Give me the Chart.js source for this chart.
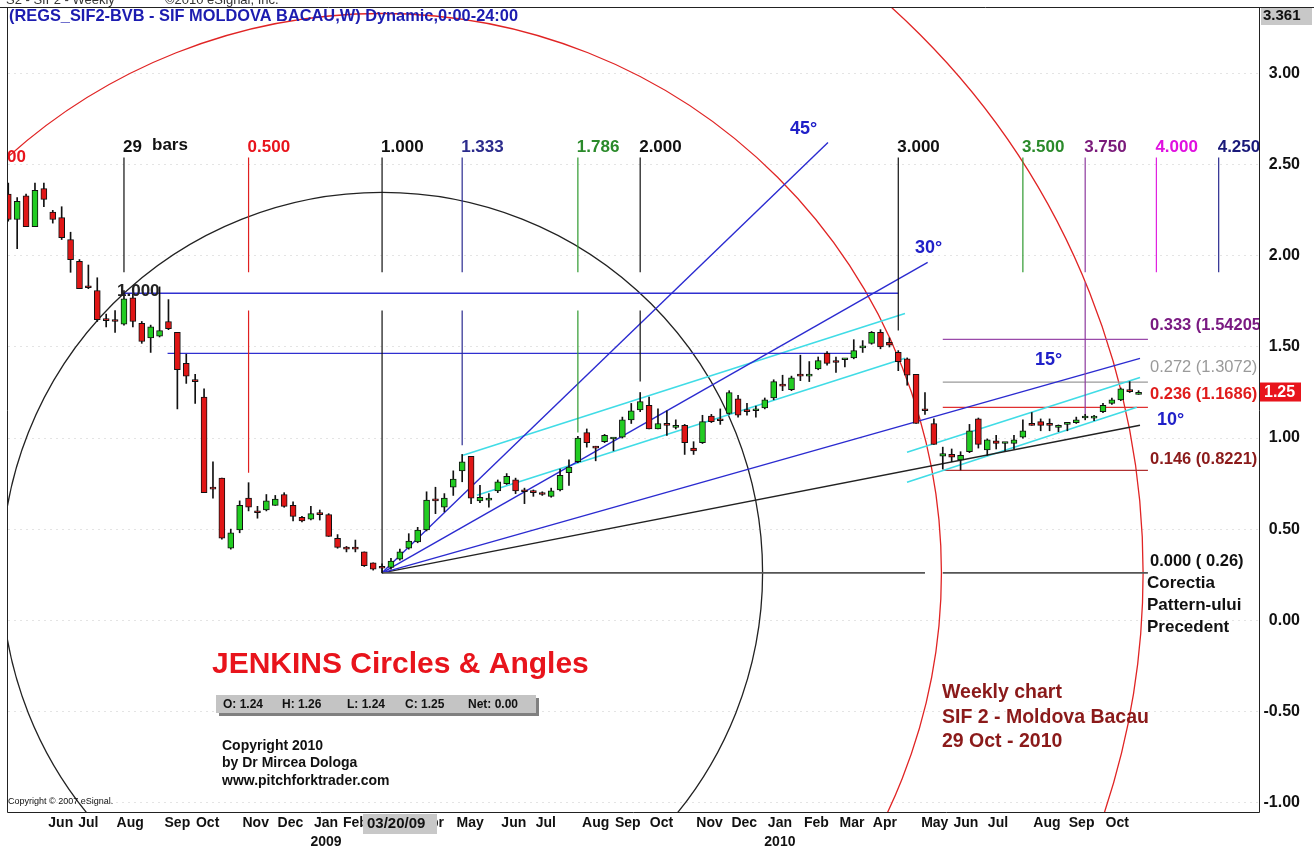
<!DOCTYPE html>
<html><head><meta charset="utf-8">
<script src="https://cdn.jsdelivr.net/npm/chart.js@4/dist/chart.umd.min.js"></script>
<style>html,body{margin:0;padding:0;background:#fff;overflow:hidden}canvas{display:block}</style>
</head><body>
<canvas id="c" width="1314" height="849"></canvas>
<script>
// ---------- DATA (weekly OHLC, bar index 0..127) ----------
const openP  = [2.34,2.20,2.33,2.16,2.37,2.24,2.21,2.09,1.97,1.83,1.81,1.65,1.645,1.625,1.77,1.63,1.55,1.56,1.64,1.58,1.41,1.315,1.225,0.725,0.78,0.395,0.495,0.67,0.60,0.605,0.63,0.69,0.63,0.565,0.555,0.585,0.58,0.45,0.395,0.395,0.375,0.315,0.29,0.29,0.335,0.395,0.43,0.495,0.66,0.62,0.73,0.82,0.90,0.655,0.67,0.71,0.75,0.77,0.71,0.705,0.70,0.68,0.715,0.81,0.87,1.03,0.95,0.98,0.995,1.005,1.10,1.155,1.18,1.05,1.075,1.07,1.07,0.945,0.975,1.12,1.10,1.135,1.215,1.15,1.15,1.165,1.22,1.29,1.265,1.345,1.34,1.38,1.465,1.42,1.43,1.44,1.495,1.52,1.58,1.525,1.47,1.435,1.35,1.155,1.08,0.90,0.91,0.88,0.925,1.105,0.935,0.985,0.97,0.97,1.005,1.075,1.09,1.075,1.07,1.075,1.085,1.11,1.12,1.145,1.19,1.21,1.26,1.24];
const highP  = [2.40,2.32,2.34,2.40,2.40,2.25,2.27,2.13,1.98,1.95,1.88,1.68,1.70,1.81,1.79,1.64,1.62,1.83,1.76,1.58,1.46,1.35,1.27,0.87,0.78,0.50,0.655,0.755,0.625,0.69,0.685,0.70,0.65,0.57,0.625,0.605,0.585,0.47,0.405,0.44,0.375,0.315,0.31,0.34,0.39,0.475,0.51,0.705,0.73,0.695,0.82,0.91,0.90,0.74,0.695,0.77,0.805,0.78,0.725,0.715,0.705,0.725,0.83,0.88,1.01,1.05,0.955,1.02,1.00,1.115,1.19,1.25,1.225,1.16,1.15,1.10,1.075,0.98,1.125,1.13,1.16,1.26,1.235,1.19,1.175,1.22,1.32,1.345,1.34,1.455,1.42,1.445,1.475,1.445,1.435,1.54,1.535,1.585,1.595,1.55,1.48,1.44,1.35,1.25,1.105,0.95,0.94,0.925,1.075,1.11,0.995,1.015,0.975,1.015,1.10,1.14,1.105,1.105,1.072,1.08,1.115,1.13,1.125,1.19,1.22,1.275,1.31,1.26];
const lowP   = [2.19,2.04,2.16,2.16,2.27,2.18,2.09,1.91,1.82,1.82,1.64,1.61,1.58,1.62,1.61,1.52,1.47,1.555,1.595,1.16,1.30,1.19,0.70,0.67,0.445,0.39,0.48,0.60,0.56,0.60,0.63,0.62,0.545,0.54,0.55,0.55,0.46,0.395,0.375,0.375,0.295,0.275,0.26,0.28,0.33,0.39,0.425,0.49,0.585,0.595,0.685,0.76,0.64,0.645,0.62,0.70,0.745,0.695,0.64,0.68,0.685,0.675,0.71,0.74,0.865,0.95,0.875,0.975,0.93,1.00,1.08,1.145,1.05,1.05,1.015,1.05,0.91,0.91,0.97,1.085,1.075,1.13,1.115,1.125,1.115,1.16,1.21,1.26,1.26,1.315,1.31,1.375,1.40,1.36,1.39,1.435,1.47,1.515,1.49,1.50,1.37,1.29,1.08,1.13,0.965,0.83,0.87,0.825,0.92,0.945,0.905,0.94,0.93,0.94,1.00,1.07,1.04,1.04,1.035,1.04,1.08,1.10,1.095,1.14,1.185,1.205,1.25,1.24];
const closeP = [2.20,2.30,2.16,2.36,2.31,2.20,2.10,1.98,1.82,1.825,1.65,1.645,1.64,1.765,1.64,1.53,1.61,1.59,1.60,1.375,1.34,1.31,0.70,0.72,0.45,0.48,0.63,0.62,0.59,0.655,0.665,0.625,0.57,0.545,0.585,0.58,0.46,0.40,0.39,0.39,0.30,0.28,0.285,0.325,0.375,0.435,0.495,0.66,0.655,0.67,0.775,0.87,0.67,0.675,0.67,0.76,0.79,0.71,0.705,0.70,0.69,0.71,0.795,0.84,1.00,0.975,0.945,1.015,1.00,1.10,1.15,1.20,1.05,1.08,1.07,1.07,0.975,0.93,1.09,1.09,1.095,1.25,1.125,1.145,1.155,1.21,1.31,1.285,1.33,1.34,1.345,1.425,1.41,1.415,1.435,1.48,1.50,1.58,1.50,1.51,1.42,1.345,1.08,1.15,0.965,0.915,0.895,0.905,1.04,0.965,0.99,0.97,0.975,0.99,1.04,1.07,1.07,1.07,1.07,1.08,1.10,1.115,1.12,1.18,1.21,1.27,1.255,1.25];

// x-axis month ticks (position in bars) and their labels
const monthTickPos = [5.9,9.0,13.7,19.0,22.4,27.8,31.7,35.7,39.0,43.5,47.6,51.9,56.8,60.4,66.0,69.6,73.4,78.8,82.7,86.7,90.8,94.8,98.5,104.1,107.6,111.2,116.7,120.6,124.6];
const monthTickLabels = ['Jun','Jul','Aug','Sep','Oct','Nov','Dec',['Jan','2009'],'Feb','Mar','Apr','May','Jun','Jul','Aug','Sep','Oct','Nov','Dec',['Jan','2010'],'Feb','Mar','Apr','May','Jun','Jul','Aug','Sep','Oct'];
const yTickValues = [-1,-0.5,0,0.5,1,1.5,2,2.5,3];
const yMin = -1.053, yMax = 3.361;

// Jenkins pivots / circles
const pivotLowBar = 42, pivotLowValue = 0.26;
const pivotHighBar = 13, pivotHighValue = 1.795;
const circleRatios = [1, 1.47, 2];

// angle fan lines from the low: end points
const fanLabels = ['45°','30°','15°','10°'];
const fanEndBar = [92.1, 103.3, 127.16, 127.16];
const fanEndValue = [2.623, 1.964, 1.4376, 1.07];

// time-ratio vertical lines
const timeLabels = ['29','0.500','1.000','1.333','1.786','2.000','3.000','3.500','3.750','4.000','4.250'];
const timeBars   = [13, 27, 42, 51, 64, 71, 100, 114, 121, 129, 136];
const timeUpperFrom = [2.54,2.54,2.54,2.54,2.54,2.54,2.54,2.54,2.54,2.54,2.54];
const timeUpperTo   = [1.91,1.91,1.91,1.91,1.91,1.91,1.59,1.91,1.91,1.91,1.91];
const timeLowerFrom = [null,1.70,1.70,1.70,1.70,1.70,null,null,1.855,null,null];
const timeLowerTo   = [null,0.81,0.26,0.96,1.03,1.31,null,null,1.125,null,null];

// horizontal blue levels
const hLevelValue = [1.795, 1.465];
const hLevelFrom = [13, 17.9];
const hLevelTo = [100, 95];

// channel (light blue) lines
const chanFromBar = [51.1, 52.66, 100.98, 100.98];
const chanFromVal = [0.905, 0.686, 0.922, 0.757];
const chanToBar   = [100.75, 100.75, 127.16, 126.8];
const chanToVal   = [1.684, 1.4376, 1.333, 1.169];

// Fibonacci levels of the previous pattern
const fibRatios = ['0.333','0.272','0.236','0.146'];
const fibValues = [1.54205, 1.3072, 1.1686, 0.8221];
const fibFromBar = 105.0, fibToBar = 128.05;
const zeroSegFrom = [42, 105.0], zeroSegTo = [103.0, 128.05];

// ---------- STYLES ----------
const F = 'Arial, "Liberation Sans", sans-serif';
const FN = '"Liberation Sans Narrow", "Arial Narrow", Arial, "Liberation Sans", sans-serif';
const GREEN = '#22cc22', RED = '#e01616';
const timeColors = ['#111','#e02020','#111','#2b2b90','#2f9a2f','#111','#111','#2f9a2f','#8e3a9e','#e020e0','#2b2b90'];
const timeLabelColors = ['#111','#e8141c','#111','#2b2b8c','#2a8a2a','#111','#111','#2a8a2a','#7a1a7a','#e010e0','#1a1a7a'];
const fibColors = ['#9a4aaa','#9a9a9a','#e03030','#b03030'];
const fibLabelColors = ['#7a1a82','#9a9a9a','#e01c1c','#8b1a1a'];
const circleColors = ['#222','#e02424','#e02424'];

// ---------- DATASETS ----------
const bodies = openP.map((o,i)=>({x:i, y:[Math.min(o,closeP[i]), Math.max(o,closeP[i])]}));
const wicks = openP.map((o,i)=>({x:i, y:[lowP[i], highP[i]]}));
const datasets = [
  {type:'bar', data:bodies, order:0, grouped:false, barThickness:6, minBarLength:2,
   backgroundColor: openP.map((o,i)=> closeP[i]>=o ? GREEN : RED), borderColor:'#111', borderWidth:1, borderSkipped:false},
  {type:'bar', data:wicks, order:1, grouped:false, barThickness:1, backgroundColor:'#111', borderWidth:0}
];
function seg(x1,y1,x2,y2,color,w){
  datasets.push({type:'line', data:[{x:x1,y:y1},{x:x2,y:y2}], borderColor:color, borderWidth:w||1.3,
    pointRadius:0, fill:false, tension:0, order:2});
}
timeBars.forEach((b,i)=>{
  seg(b,timeUpperFrom[i],b,timeUpperTo[i],timeColors[i],1.2);
  if(timeLowerFrom[i]!==null) seg(b,timeLowerFrom[i],b,timeLowerTo[i],timeColors[i],1.2);
});
zeroSegFrom.forEach((f,i)=>seg(f,pivotLowValue,zeroSegTo[i],pivotLowValue,'#555',1.6));
fanEndBar.forEach((b,i)=>seg(pivotLowBar,pivotLowValue,b,fanEndValue[i], i===3?'#222':'#2b2bd0',1.4));
hLevelValue.forEach((v,i)=>seg(hLevelFrom[i],v,hLevelTo[i],v,'#3030d0',1.3));
chanFromBar.forEach((b,i)=>seg(b,chanFromVal[i],chanToBar[i],chanToVal[i],'#40dce6',1.6));
fibValues.forEach((v,i)=>seg(fibFromBar,v,fibToBar,v,fibColors[i],1.3));

// ---------- OVERLAY PLUGIN ----------
function txt(ctx,s,x,y,font,color,align){
  ctx.font=font; ctx.fillStyle=color; ctx.textAlign=align||'left'; ctx.textBaseline='middle'; ctx.fillText(s,x,y);
}
function fitTxt(ctx,s,x,y,font,color,w){
  ctx.save(); ctx.font=font; const m=ctx.measureText(s).width; ctx.translate(x,y); ctx.scale(w/m,1);
  ctx.fillStyle=color; ctx.textAlign='left'; ctx.textBaseline='middle'; ctx.fillText(s,0,0); ctx.restore();
}
const overlay = {
  id:'overlay',
  beforeDatasetsDraw(chart){
    const {ctx, chartArea:a, scales:{x,y}} = chart;
    ctx.save(); ctx.beginPath(); ctx.rect(a.left,a.top,a.right-a.left,a.bottom-a.top); ctx.clip();
    const cx=x.getPixelForValue(pivotLowBar), cy=y.getPixelForValue(pivotLowValue);
    const r0=Math.hypot(x.getPixelForValue(pivotHighBar)-cx, y.getPixelForValue(pivotHighValue)-cy);
    circleRatios.forEach((k,i)=>{ctx.beginPath(); ctx.arc(cx,cy,r0*k,0,Math.PI*2); ctx.strokeStyle=circleColors[i]; ctx.lineWidth=1.3; ctx.stroke();});
    ctx.restore();
  },
  afterDatasetsDraw(chart){
    const {ctx, chartArea:a, scales:{x,y}} = chart;
    ctx.save(); ctx.beginPath(); ctx.rect(a.left,a.top,a.right-a.left,a.bottom-a.top); ctx.clip();
    const B='bold 17px '+F;
    timeBars.forEach((b,i)=>txt(ctx,timeLabels[i],x.getPixelForValue(b)-1,147,B,timeLabelColors[i]));
    txt(ctx,'bars',152,145,B,'#111');
    txt(ctx,'00',7,157,B,'#e8141c');
    txt(ctx,'1.000',117,291,B,'#222');
    const angPos=[[790,129],[915,248],[1035,360],[1157,420]];
    fanLabels.forEach((s,i)=>txt(ctx,s,angPos[i][0],angPos[i][1],'bold 18px '+F,'#2020c8'));
    const fibY=[325,367,394,459];
    fibRatios.forEach((r,i)=>txt(ctx,r+' ('+fibValues[i]+')',1150,fibY[i],(i===1?'':'bold ')+'16.5px '+F,fibLabelColors[i]));
    txt(ctx,'0.000 ( '+pivotLowValue+')',1150,561,'bold 16.5px '+F,'#111');
    ['Corectia','Pattern-ului','Precedent'].forEach((s,i)=>txt(ctx,s,1147,583+i*22,'bold 17px '+F,'#111'));
    fitTxt(ctx,'(REGS_SIF2-BVB - SIF MOLDOVA BACAU,W) Dynamic,0:00-24:00',9,16,'bold 17px '+F,'#1c1cb0',509);
    txt(ctx,'JENKINS Circles & Angles',212,665,'bold 30px '+F,'#e8141c');
    ctx.fillStyle='#808080'; ctx.fillRect(219,698,320,18);
    ctx.fillStyle='#c4c4c4'; ctx.fillRect(216,695,320,18);
    const L=closeP.length-1;
    const ohlc=[['O: '+openP[L].toFixed(2),223],['H: '+highP[L].toFixed(2),282],['L: '+lowP[L].toFixed(2),347],['C: '+closeP[L].toFixed(2),405],['Net: 0.00',468]];
    ohlc.forEach(o=>txt(ctx,o[0],o[1],705,'bold 12px '+F,'#111'));
    ['Copyright 2010','by Dr Mircea Dologa','www.pitchforktrader.com'].forEach((s,i)=>txt(ctx,s,222,746+i*17.5,'bold 14px '+F,'#111'));
    txt(ctx,'Copyright © 2007 eSignal.',8,802,'9px '+F,'#111');
    ['Weekly chart','SIF 2 - Moldova Bacau','29 Oct - 2010'].forEach((s,i)=>txt(ctx,s,942,693+i*24.5,'bold 19.5px '+F,'#8b1a1a'));
    ctx.restore();
  },
  afterDraw(chart){
    const {ctx, chartArea:a, scales:{x,y}} = chart;
    ctx.save();
    txt(ctx,'S2 - SIF2 - Weekly',6,0,'13px '+F,'#333');
    txt(ctx,'©2010 eSignal, Inc.',165,0,'13px '+F,'#333');
    ctx.strokeStyle='#222'; ctx.lineWidth=1;
    ctx.beginPath();
    ctx.moveTo(0,a.top-0.5); ctx.lineTo(1314,a.top-0.5);
    ctx.moveTo(a.left-0.5,a.top); ctx.lineTo(a.left-0.5,a.bottom+0.5);
    ctx.lineTo(a.right+0.5,a.bottom+0.5);
    ctx.moveTo(a.right+0.5,a.top); ctx.lineTo(a.right+0.5,a.bottom+0.5);
    ctx.stroke();
    ctx.fillStyle='#c8c8c8'; ctx.fillRect(a.right+2,a.top,1314-a.right-4,17);
    txt(ctx,yMax.toFixed(3),a.right+4,a.top+8,'bold 15px '+F,'#111');
    const L=closeP.length-1, py=y.getPixelForValue(closeP[L]);
    ctx.fillStyle='#e8141c'; ctx.fillRect(a.right+1,py-10,41,19);
    txt(ctx,closeP[L].toFixed(2),a.right+5,py,'bold 16px '+F,'#fff');
    ctx.fillStyle='#c8c8c8'; ctx.fillRect(363,814,74,20);
    txt(ctx,'03/20/09',367,824,'bold 15px '+FN,'#111');
    ctx.restore();
  }
};

new Chart(document.getElementById('c'), {
  type:'bar',
  data:{datasets},
  options:{
    responsive:false, animation:false, events:[],
    layout:{padding:{left:8,top:8,right:14,bottom:0}},
    plugins:{legend:{display:false}, tooltip:{enabled:false}},
    scales:{
      x:{type:'linear', min:-0.03, max:140.53, offset:false,
         grid:{display:false, drawTicks:false}, border:{display:false},
         afterBuildTicks:s=>{s.ticks=monthTickPos.map(v=>({value:v}));},
         afterFit:s=>{s.height=37; s.paddingLeft=0; s.paddingRight=0;},
         ticks:{autoSkip:false, maxRotation:0, minRotation:0, padding:2,
           font:{family:F, size:14, weight:'bold', lineHeight:1.33}, color:'#111',
           callback:(v,i)=>monthTickLabels[i]}},
      y:{type:'linear', position:'right', min:yMin, max:yMax,
         grid:{color:'#e4e4e4', drawTicks:false}, border:{display:false, dash:[2,4]},
         afterBuildTicks:s=>{s.ticks=yTickValues.map(v=>({value:v}));},
         afterFit:s=>{s.width=41; s.paddingTop=0; s.paddingBottom=0;},
         ticks:{padding:0, crossAlign:'far', font:{family:F, size:16, weight:'bold'}, color:'#111',
           callback:v=>v.toFixed(2)}}
    }
  },
  plugins:[overlay]
});
</script>
</body></html>
